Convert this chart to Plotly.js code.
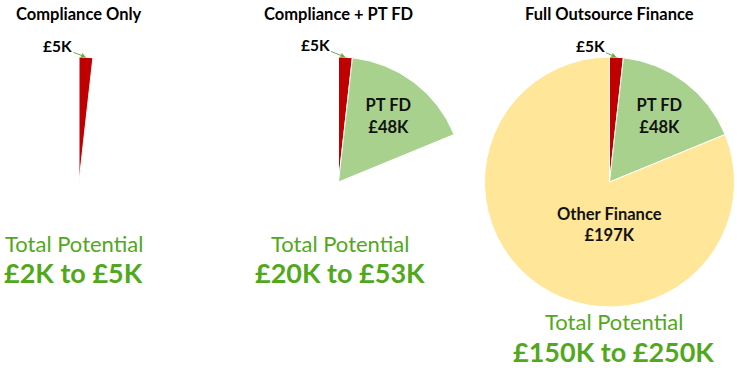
<!DOCTYPE html>
<html><head><meta charset="utf-8">
<script src="https://cdn.plot.ly/plotly-3.0.1.min.js"></script>
<style>
html,body{margin:0;padding:0;overflow:hidden;width:737px;height:368px;background:#fff}
#chart{width:797px;height:368px;margin-left:-60px}
</style>
</head><body><div id="chart"></div>
<script>
// ---- data ----
const chartTitles = ['Compliance Only', 'Compliance + PT FD', 'Full Outsource Finance'];
const sliceNames = ['Compliance', 'PT FD', 'Other Finance'];
const sliceValues = [5, 48, 229];
const sliceLabels = ['£5K', '£48K', '£197K'];
const slicesShown = [1, 2, 3];
const potentialRanges = ['£2K to £5K', '£20K to £53K', '£150K to £250K'];

// ---- style / layout ----
const sliceColors = ['#C00000', '#A9D18E', '#FFE699'];
const GREEN_TXT = '#52A81C';
const FONT = 'Lato, "Open Sans", sans-serif';
const OFF = 60, W = 797, H = 368, R = 125, CY = 182;
const centersX = [79, 338.5, 609.5];
const titleX = [78.5, 338, 609], titleY = 14;
const smallLabelPos = [[57.5, 46], [315, 45], [590, 46]];
const totalX = [73.5, 340, 613.5];
const totalY = [[243, 272], [243, 272], [321.5, 351]];

const px = x => (x + OFF) / W;
const py = y => 1 - y / H;
const total = sliceValues.reduce((a, b) => a + b, 0);

const traces = [];
const annotations = [];
for (let i = 0; i < 3; i++) {
  const cx = centersX[i];
  traces.push({
    type: 'pie',
    values: sliceValues,
    labels: sliceNames,
    sort: false,
    direction: 'clockwise',
    rotation: 0,
    hoverinfo: 'none',
    textinfo: 'text',
    textposition: 'inside',
    insidetextorientation: 'horizontal',
    text: sliceNames.map((n, j) => (j === 1 && j < slicesShown[i]) ? n + '<br>' + sliceLabels[j] : ''),
    insidetextfont: {family: FONT, size: 16.5, color: '#111111', weight: 700},
    marker: {
      colors: sliceColors.map((c, j) => j < slicesShown[i] ? c : 'rgba(0,0,0,0)'),
      line: {color: sliceColors.map((c, j) => j < slicesShown[i] ? '#ffffff' : 'rgba(0,0,0,0)'), width: 1}
    },
    domain: {x: [px(cx - R), px(cx + R)], y: [py(CY + R), py(CY - R)]},
    showlegend: false
  });
  // title
  annotations.push({xref: 'paper', yref: 'paper', x: px(titleX[i]), y: py(titleY), xanchor: 'center', yanchor: 'middle',
    showarrow: false, text: chartTitles[i], font: {family: FONT, size: 16.5, color: '#000', weight: 700}});
  // £5K label with arrow to red slice
  const th = (sliceValues[0] / 2) / total * 2 * Math.PI;
  const hx = cx + R * Math.sin(th), hy = CY - R * Math.cos(th);
  annotations.push({xref: 'paper', yref: 'paper', x: px(hx), y: py(hy), axref: 'pixel', ayref: 'pixel',
    ax: smallLabelPos[i][0] - hx, ay: smallLabelPos[i][1] - hy, showarrow: true, arrowhead: 2, arrowsize: 1,
    arrowwidth: 1, arrowcolor: '#70AD47', standoff: 0, text: sliceLabels[0],
    font: {family: FONT, size: 15.5, color: '#000', weight: 700}});
  // totals
  annotations.push({xref: 'paper', yref: 'paper', x: px(totalX[i]), y: py(totalY[i][0]), xanchor: 'center', yanchor: 'middle',
    showarrow: false, borderpad: 0, text: 'Total Potential', font: {family: FONT, size: 22, color: GREEN_TXT, weight: 400}});
  annotations.push({xref: 'paper', yref: 'paper', x: px(totalX[i]), y: py(totalY[i][1]), xanchor: 'center', yanchor: 'middle',
    showarrow: false, borderpad: 0, text: potentialRanges[i], font: {family: FONT, size: 27, color: GREEN_TXT, weight: 700}});
}
// Other Finance label in third pie
annotations.push({xref: 'paper', yref: 'paper', x: px(centersX[2]), y: py(CY + 0.34 * R), xanchor: 'center', yanchor: 'middle',
  showarrow: false, text: sliceNames[2] + '<br>' + sliceLabels[2], font: {family: FONT, size: 16.5, color: '#111111', weight: 700}});

Plotly.newPlot('chart', traces, {
  width: W, height: H,
  margin: {l: 0, r: 0, t: 0, b: 0, pad: 0},
  paper_bgcolor: '#ffffff',
  showlegend: false,
  annotations: annotations
}, {staticPlot: true, displayModeBar: false});
</script>
</body></html>
